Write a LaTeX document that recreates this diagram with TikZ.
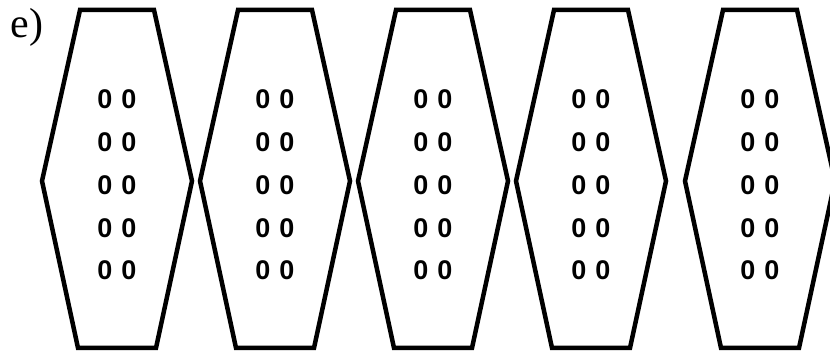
\documentclass[tikz,border=0pt]{standalone}
\usepackage{fontspec}
\setmainfont{Liberation Serif}
\newfontfamily\digitfont{Liberation Sans}

\begin{document}
\begin{tikzpicture}[x=1pt,y=-1pt,line width=4.5pt,line join=miter,
  cell/.style={font=\digitfont\bfseries\fontsize{27}{27}\selectfont,inner sep=0pt}]
  \useasboundingbox (0,0) rectangle (830,352);
  \node[font=\fontsize{42}{42}\selectfont,inner sep=0pt] (lbl) at (27,27) {e)};
  \foreach \i/\cx in {1/117,2/275,3/433,4/591,5/760}{
    \coordinate (hex\i) at (\cx,181);
    \draw (\cx-37,10) -- (\cx+37,10) -- (\cx+75,181) -- (\cx+39,348)
      -- (\cx-39,348) -- (\cx-75,181) -- cycle;
    \foreach \j/\cy in {1/99,2/142,3/185,4/228,5/270}
      \node[cell] (h\i r\j) at (\cx,\cy) {0\hspace{9pt}0};
  }
\end{tikzpicture}
\end{document}
